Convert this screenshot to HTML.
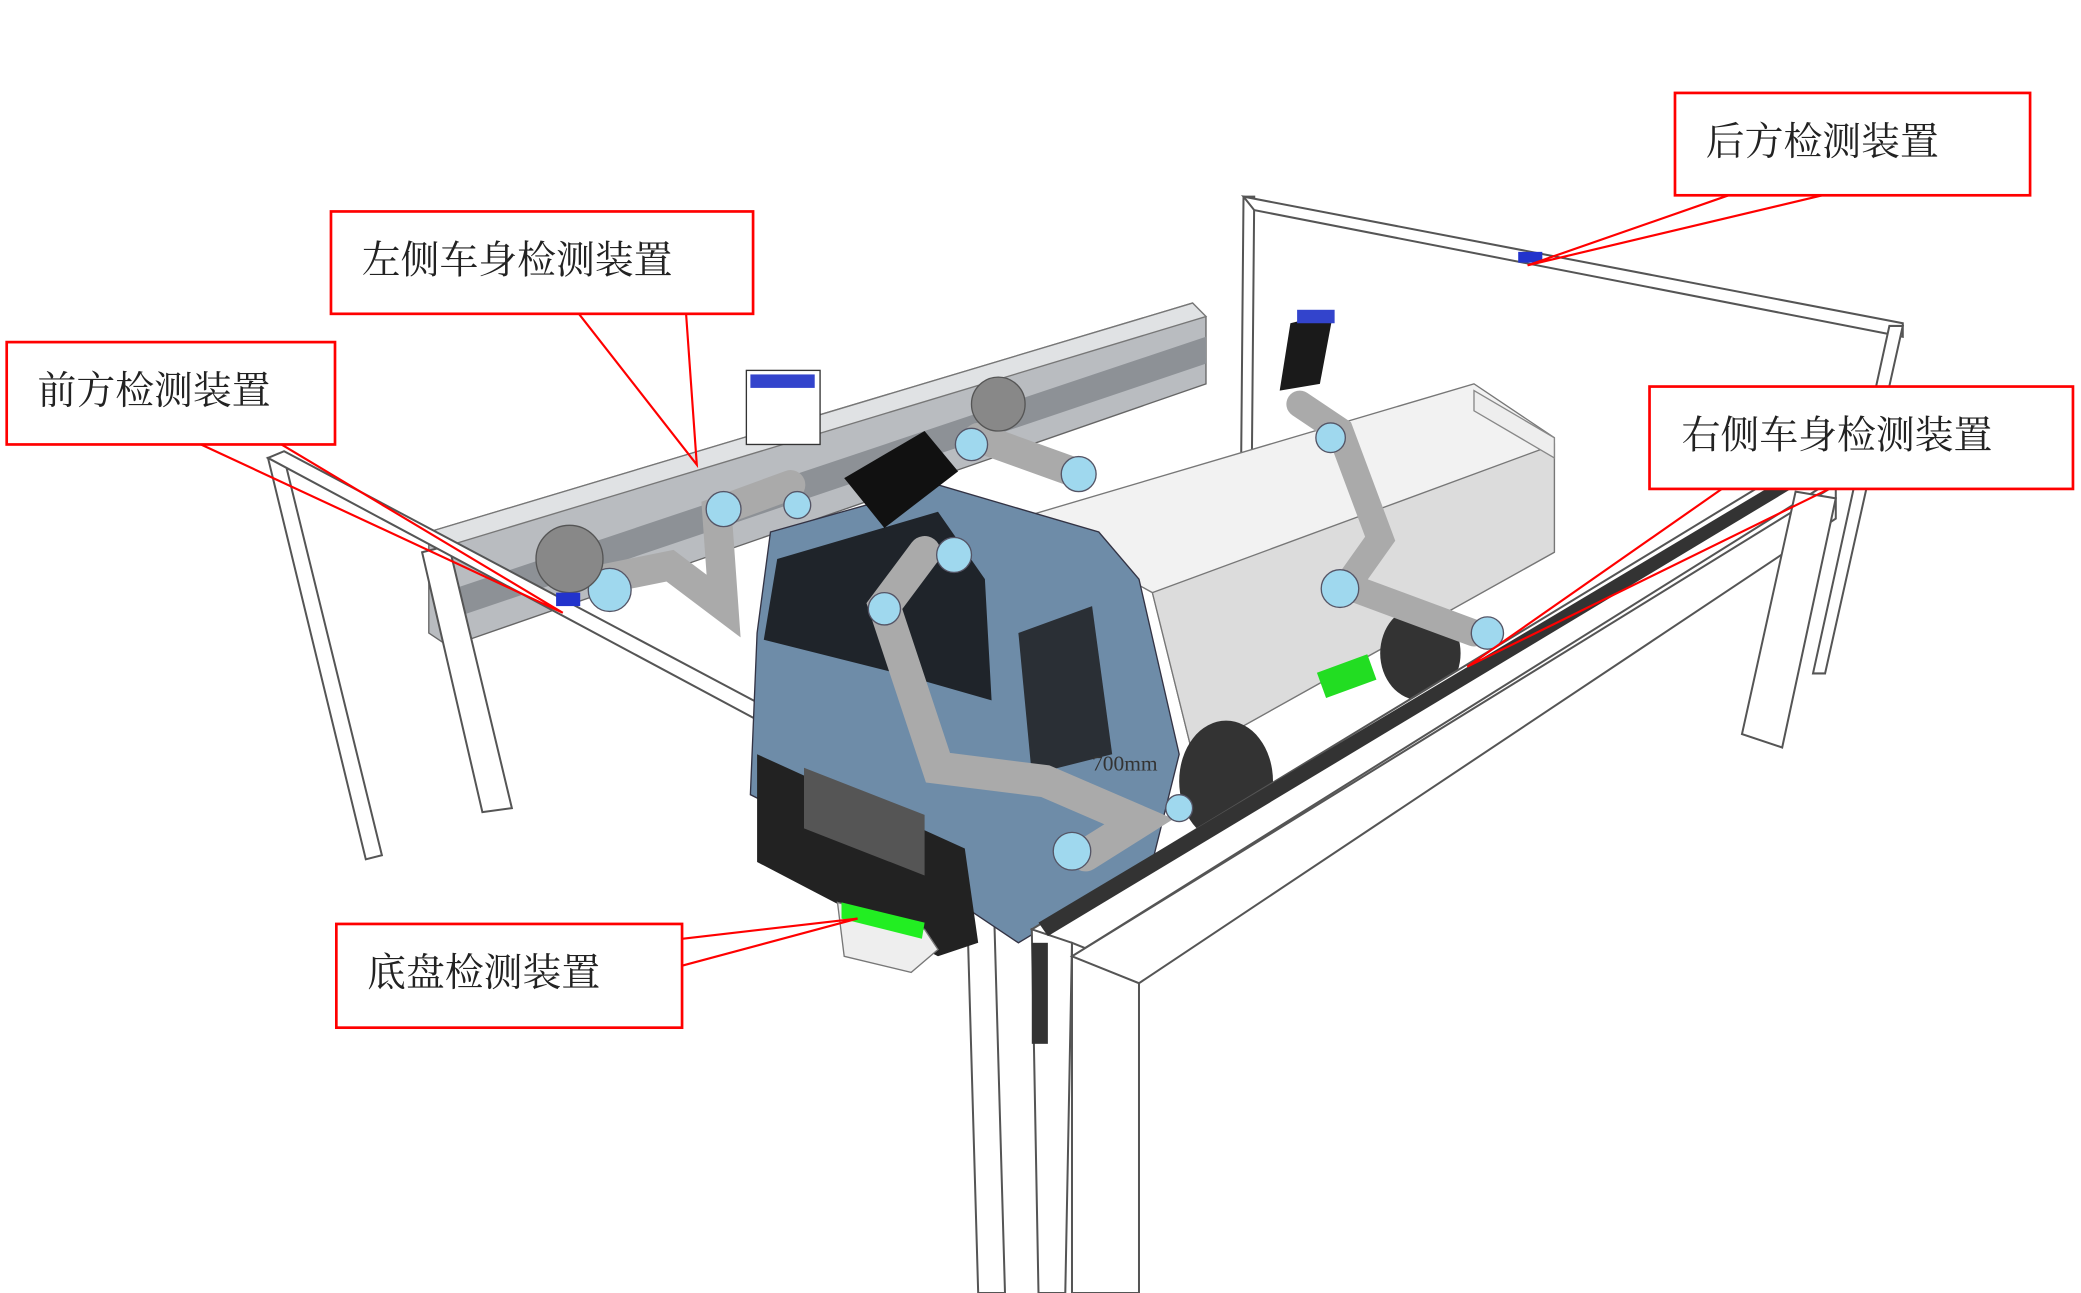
<!DOCTYPE html>
<html><head><meta charset="utf-8"><style>
html,body{margin:0;padding:0;background:#fff;}
svg{display:block;}
text{font-family:"Liberation Serif","Noto Serif CJK SC","Noto Sans CJK SC",serif;font-size:29px;fill:#222;}
</style></head><body>
<svg width="2081" height="1293" viewBox="0 0 1553 960" preserveAspectRatio="none" xmlns="http://www.w3.org/2000/svg">
<rect width="1553" height="960" fill="#fff"/>
<!-- back frame -->
<g fill="#fff" stroke="#555" stroke-width="1.5">
<polygon points="928,146 936,146 933,480 925,480"/>
<polygon points="928,146 1420,240 1420,250 936,156"/>
<polygon points="1410,242 1420,242 1362,500 1353,500"/>
</g>
<!-- left rail -->
<polygon points="320,395 890,225 900,235 900,285 335,480 320,470" fill="#b9bcc0" stroke="#666"/>
<polygon points="320,395 890,225 900,235 335,405" fill="#e0e2e4" stroke="#777"/>
<polygon points="330,440 900,250 900,270 335,460" fill="#8d9196"/>
<!-- left frame legs -->
<g fill="#fff" stroke="#555" stroke-width="1.5">
<polygon points="200,340 212,340 285,635 273,638"/>
<polygon points="315,410 335,405 382,600 360,603"/>
<polygon points="200,340 212,335 742,615 735,625"/>
<polygon points="720,615 740,612 750,960 730,960"/>
</g>
<!-- truck bed -->
<polygon points="760,385 1100,285 1160,325 1160,410 890,560 860,440" fill="#f2f2f2" stroke="#777"/>
<polygon points="860,440 1160,330 1160,410 890,560" fill="#dcdcdc" stroke="#777"/>
<polygon points="1100,290 1160,325 1160,340 1100,305" fill="#eee" stroke="#888"/>
<!-- wheels / chassis -->
<ellipse cx="915" cy="580" rx="35" ry="45" fill="#333"/>
<ellipse cx="1060" cy="485" rx="30" ry="35" fill="#333"/>
<rect x="985" y="492" width="40" height="20" fill="#22dd22" transform="rotate(-20 1005 502)"/>
<!-- cab -->
<polygon points="575,395 700,360 820,395 850,430 880,560 860,640 760,700 700,660 560,590 565,470" fill="#6e8ca8" stroke="#334"/>
<polygon points="580,415 700,380 735,430 740,520 670,500 570,475" fill="#1f242a"/>
<polygon points="760,470 815,450 830,560 770,575" fill="#2a2f35"/>
<polygon points="565,560 720,630 730,700 700,710 565,640" fill="#222"/>
<polygon points="600,570 690,605 690,650 600,615" fill="#555"/>
<text x="815" y="572" style="font-size:16px;fill:#333">700mm</text>
<!-- chassis green box -->
<polygon points="625,670 690,690 700,705 680,722 630,710" fill="#eee" stroke="#777"/>
<polygon points="628,670 690,685 688,697 628,682" fill="#22ee22"/>
<!-- robot arms -->
<g stroke="#aaa" stroke-linecap="round" fill="none">
<path d="M450,430 L500,420 L540,450 L535,380 L590,360" stroke-width="22"/>
<path d="M730,325 L800,350" stroke-width="22"/>
<path d="M690,410 L660,450 L700,570 L780,580 L850,610 L810,635" stroke-width="24"/>
<path d="M970,300 L1000,320 L1030,400 L1005,435 L1100,470" stroke-width="20"/>
</g>
<g fill="#9fd8ee" stroke="#556">
<circle cx="540" cy="378" r="13"/><circle cx="595" cy="375" r="10"/><circle cx="455" cy="438" r="16"/>
<circle cx="725" cy="330" r="12"/><circle cx="805" cy="352" r="13"/><circle cx="712" cy="412" r="13"/>
<circle cx="660" cy="452" r="12"/><circle cx="800" cy="632" r="14"/><circle cx="880" cy="600" r="10"/>
<circle cx="1000" cy="437" r="14"/><circle cx="1110" cy="470" r="12"/><circle cx="993" cy="325" r="11"/>
</g>
<circle cx="425" cy="415" r="25" fill="#888" stroke="#555"/>
<circle cx="745" cy="300" r="20" fill="#888" stroke="#555"/>
<!-- cameras -->
<polygon points="630,355 690,320 715,350 660,392" fill="#111"/>
<polygon points="963,240 995,232 985,285 955,290" fill="#1a1a1a"/>
<rect x="968" y="230" width="28" height="10" fill="#3344cc"/>
<rect x="557" y="275" width="55" height="55" fill="#fff" stroke="#333"/>
<rect x="560" y="278" width="48" height="10" fill="#3344cc"/>
<rect x="415" y="440" width="18" height="10" fill="#2233cc"/>
<rect x="1133" y="187" width="18" height="8" fill="#2233cc"/>
<!-- right frame -->
<g fill="#fff" stroke="#555" stroke-width="1.5">
<polygon points="770,690 1340,345 1370,355 800,710"/>
<polygon points="770,690 800,700 795,960 775,960"/>
<polygon points="800,700 850,720 850,960 800,960"/>
<polygon points="800,710 1370,360 1370,385 850,730"/>
<polygon points="1340,365 1370,370 1330,555 1300,545"/>
</g>
<polygon points="775,685 1340,350 1345,358 782,695" fill="#333"/>
<rect x="770" y="700" width="12" height="75" fill="#333"/>
<!-- leader lines -->
<g stroke="#f00" stroke-width="1.6" fill="none">
<polyline points="1290,145 1140,197 1360,145"/>
<polyline points="432,233 520,345 512,233"/>
<polyline points="150,330 420,455 210,330"/>
<polyline points="1285,363 1095,495 1365,363"/>
<polyline points="509,697 640,682 509,717"/>
</g>
<!-- labels -->
<g fill="#fff" stroke="#f00" stroke-width="2">
<rect x="1250" y="69" width="265" height="76"/>
<rect x="247" y="157" width="315" height="76"/>
<rect x="5" y="254" width="245" height="76"/>
<rect x="1231" y="287" width="316" height="76"/>
<rect x="251" y="686" width="258" height="77"/>
</g>
<text x="1273" y="115">后方检测装置</text>
<text x="270" y="203">左侧车身检测装置</text>
<text x="28" y="300">前方检测装置</text>
<text x="1255" y="333">右侧车身检测装置</text>
<text x="274" y="732">底盘检测装置</text>
</svg>
</body></html>
